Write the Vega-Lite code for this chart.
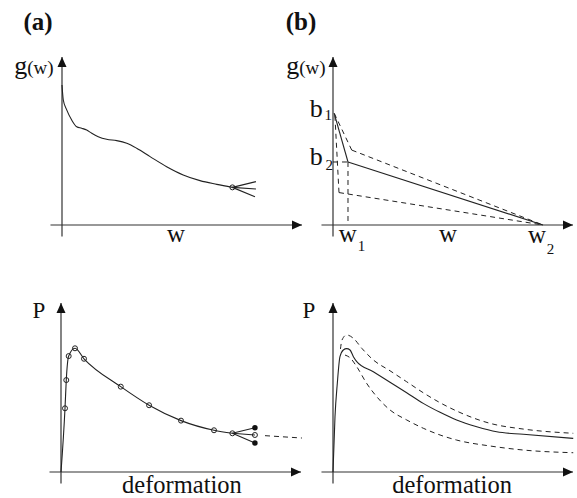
{
  "$schema": "https://vega.github.io/schema/vega-lite/v6.json",
  "padding": 0,
  "spacing": 0,
  "bounds": "flush",
  "columns": 2,
  "background": "white",
  "config": {
    "view": {"stroke": null},
    "concat": {"spacing": 0},
    "text": {"font": "Liberation Serif", "align": "center", "baseline": "alphabetic", "color": "#111"}
  },
  "datasets": {
    "axes": [
      {"x": -0.48, "y": 0, "x2": 10, "y2": 0},
      {"x": 0, "y": -0.68, "x2": 0, "y2": 10}
    ],
    "arrowheads": [
      {"x": 10, "y": 0, "dir": "right"},
      {"x": 0, "y": 10, "dir": "up"}
    ],
    "curveA": [
      {"x": 0, "y": 8.33}, {"x": 0.054, "y": 7.44}, {"x": 0.196, "y": 6.85},
      {"x": 0.404, "y": 6.25}, {"x": 0.6125, "y": 5.85}, {"x": 0.82, "y": 5.76},
      {"x": 1.03, "y": 5.65}, {"x": 1.24, "y": 5.46}, {"x": 1.51, "y": 5.26},
      {"x": 1.86, "y": 5.1}, {"x": 2.28, "y": 5.02}, {"x": 2.7, "y": 4.86},
      {"x": 3.11, "y": 4.57}, {"x": 3.67, "y": 4.07}, {"x": 4.36, "y": 3.47},
      {"x": 5.05, "y": 2.98}, {"x": 5.75, "y": 2.64}, {"x": 6.45, "y": 2.42},
      {"x": 7.1, "y": 2.24}
    ],
    "fanA": [
      {"x": 7.1, "y": 2.24, "x2": 8.08, "y2": 2.58},
      {"x": 7.1, "y": 2.24, "x2": 8.08, "y2": 2.14},
      {"x": 7.1, "y": 2.24, "x2": 8.04, "y2": 1.68}
    ],
    "nodeA": [{"x": 7.1, "y": 2.24}],
    "labelsA": [
      {"role": "panel", "label": "(a)", "x": -1.0, "y": 11.61},
      {"role": "symbol", "label": "g", "x": -1.72, "y": 8.99},
      {"role": "argument", "label": "(w)", "x": -0.9, "y": 8.99},
      {"role": "main", "label": "w", "x": 4.75, "y": -1.01}
    ],
    "solidB": [
      {"x": 0.05, "y": 6.65, "x2": 0.625, "y2": 3.75},
      {"x": 0.625, "y": 3.75, "x2": 8.75, "y2": 0}
    ],
    "dashedB": [
      {"x": 0.05, "y": 6.65, "x2": 0.78, "y2": 4.46},
      {"x": 0.78, "y": 4.46, "x2": 8.75, "y2": 0},
      {"x": 0.08, "y": 6.5, "x2": 0.25, "y2": 1.93},
      {"x": 0.25, "y": 1.93, "x2": 8.75, "y2": 0},
      {"x": 0, "y": 3.75, "x2": 0.625, "y2": 3.75},
      {"x": 0.625, "y": 3.75, "x2": 0.625, "y2": 0}
    ],
    "labelsB": [
      {"role": "panel", "label": "(b)", "x": -1.33, "y": 11.61},
      {"role": "symbol", "label": "g", "x": -1.68, "y": 8.99},
      {"role": "argument", "label": "(w)", "x": -0.86, "y": 8.99},
      {"role": "symbol", "label": "b", "x": -0.7, "y": 6.43},
      {"role": "subscript", "label": "1", "x": -0.2, "y": 6.25},
      {"role": "symbol", "label": "b", "x": -0.7, "y": 3.57},
      {"role": "subscript", "label": "2", "x": -0.16, "y": 3.27},
      {"role": "main", "label": "w", "x": 4.79, "y": -1.01},
      {"role": "main", "label": "w", "x": 0.62, "y": -1.01},
      {"role": "subscript", "label": "1", "x": 1.19, "y": -1.55},
      {"role": "main", "label": "w", "x": 8.5, "y": -1.07},
      {"role": "subscript", "label": "2", "x": 9.06, "y": -1.72}
    ],
    "curveC": [
      {"x": 0, "y": 0}, {"x": 0.167, "y": 3.77}, {"x": 0.22, "y": 5.44},
      {"x": 0.32, "y": 6.86}, {"x": 0.583, "y": 7.32}, {"x": 0.958, "y": 6.7},
      {"x": 2.49, "y": 5.05}, {"x": 3.67, "y": 3.95}, {"x": 5.0, "y": 3.04},
      {"x": 6.375, "y": 2.47}, {"x": 7.14, "y": 2.29}
    ],
    "openC": [
      {"x": 0.167, "y": 3.77}, {"x": 0.22, "y": 5.44}, {"x": 0.32, "y": 6.86},
      {"x": 0.583, "y": 7.32}, {"x": 0.958, "y": 6.7}, {"x": 2.49, "y": 5.05},
      {"x": 3.67, "y": 3.95}, {"x": 5.0, "y": 3.04}, {"x": 6.375, "y": 2.47},
      {"x": 7.14, "y": 2.29}, {"x": 8.08, "y": 2.19}
    ],
    "fanC": [
      {"x": 7.14, "y": 2.29, "x2": 8.08, "y2": 2.62},
      {"x": 7.14, "y": 2.29, "x2": 8.08, "y2": 2.19},
      {"x": 7.14, "y": 2.29, "x2": 8.08, "y2": 1.72}
    ],
    "filledC": [{"x": 8.08, "y": 2.62}, {"x": 8.08, "y": 1.72}],
    "tailC": [{"x": 8.5, "y": 2.15, "x2": 10.04, "y2": 2.01}],
    "labelsC": [
      {"role": "main", "label": "P", "x": -0.92, "y": 9.11},
      {"role": "axis", "label": "deformation", "x": 5.04, "y": -1.26}
    ],
    "curvesD": [
      {"band": "median", "x": 0, "y": 0}, {"band": "median", "x": 0.083, "y": 3.27},
      {"band": "median", "x": 0.18, "y": 5.25}, {"band": "median", "x": 0.29, "y": 6.82},
      {"band": "median", "x": 0.43, "y": 7.22}, {"band": "median", "x": 0.57, "y": 7.3},
      {"band": "median", "x": 0.71, "y": 7.22}, {"band": "median", "x": 0.85, "y": 6.82},
      {"band": "median", "x": 0.99, "y": 6.53}, {"band": "median", "x": 1.68, "y": 5.93},
      {"band": "median", "x": 2.375, "y": 5.31}, {"band": "median", "x": 3.07, "y": 4.69},
      {"band": "median", "x": 3.76, "y": 4.06}, {"band": "median", "x": 4.46, "y": 3.53},
      {"band": "median", "x": 5.15, "y": 3.08}, {"band": "median", "x": 5.99, "y": 2.68},
      {"band": "median", "x": 6.82, "y": 2.38}, {"band": "median", "x": 7.93, "y": 2.23},
      {"band": "median", "x": 10.01, "y": 1.99},
      {"band": "upper", "x": 0.31, "y": 7.28}, {"band": "upper", "x": 0.375, "y": 7.81},
      {"band": "upper", "x": 0.57, "y": 8.11}, {"band": "upper", "x": 0.85, "y": 7.91},
      {"band": "upper", "x": 1.2, "y": 7.32}, {"band": "upper", "x": 1.68, "y": 6.63},
      {"band": "upper", "x": 2.375, "y": 5.99}, {"band": "upper", "x": 3.07, "y": 5.34},
      {"band": "upper", "x": 3.76, "y": 4.69}, {"band": "upper", "x": 4.46, "y": 4.1},
      {"band": "upper", "x": 5.15, "y": 3.61}, {"band": "upper", "x": 6.54, "y": 2.88},
      {"band": "upper", "x": 7.93, "y": 2.54}, {"band": "upper", "x": 10.01, "y": 2.29},
      {"band": "lower", "x": 0.5, "y": 6.92}, {"band": "lower", "x": 0.71, "y": 6.76},
      {"band": "lower", "x": 0.99, "y": 6.23}, {"band": "lower", "x": 1.4, "y": 5.25},
      {"band": "lower", "x": 1.82, "y": 4.46}, {"band": "lower", "x": 2.375, "y": 3.67},
      {"band": "lower", "x": 3.07, "y": 3.08}, {"band": "lower", "x": 3.76, "y": 2.59},
      {"band": "lower", "x": 4.46, "y": 2.19}, {"band": "lower", "x": 5.15, "y": 1.89},
      {"band": "lower", "x": 6.54, "y": 1.54}, {"band": "lower", "x": 7.93, "y": 1.3},
      {"band": "lower", "x": 10.01, "y": 1.14}
    ],
    "labelsD": [
      {"role": "main", "label": "P", "x": -1.0, "y": 9.11},
      {"role": "axis", "label": "deformation", "x": 4.96, "y": -1.26}
    ]
  },
  "concat": [
    {
      "width": 288,
      "height": 249,
      "encoding": {
        "x": {"field": "x", "type": "quantitative", "axis": null, "scale": {"domain": [-2.5833, 9.4167], "nice": false, "zero": false}},
        "y": {"field": "y", "type": "quantitative", "axis": null, "scale": {"domain": [-1.4286, 13.3929], "nice": false, "zero": false}}
      },
      "layer": [
        {"data": {"name": "axes"}, "mark": {"type": "rule", "color": "#333", "strokeWidth": 1.2}, "encoding": {"x2": {"field": "x2"}, "y2": {"field": "y2"}}},
        {"data": {"name": "arrowheads"}, "mark": {"type": "point", "filled": true, "opacity": 1, "size": 25, "color": "#111"},
         "encoding": {"shape": {"field": "dir", "type": "nominal", "legend": null, "scale": {"domain": ["up", "right"], "range": ["M0,0L-1.8,4L1.8,4Z", "M0,0L-4,-1.8L-4,1.8Z"]}}}},
        {"data": {"name": "curveA"}, "mark": {"type": "line", "interpolate": "monotone", "color": "#222", "strokeWidth": 1.1}},
        {"data": {"name": "fanA"}, "mark": {"type": "rule", "color": "#222", "strokeWidth": 1.1}, "encoding": {"x2": {"field": "x2"}, "y2": {"field": "y2"}}},
        {"data": {"name": "nodeA"}, "mark": {"type": "point", "shape": "circle", "filled": false, "opacity": 1, "size": 25, "color": "#222", "strokeWidth": 1}},
        {"data": {"name": "labelsA"}, "transform": [{"filter": "datum.role === 'panel'"}], "mark": {"type": "text", "font": "Liberation Serif", "fontSize": 25, "fontWeight": "bold"}, "encoding": {"text": {"field": "label"}}},
        {"data": {"name": "labelsA"}, "transform": [{"filter": "datum.role === 'symbol'"}], "mark": {"type": "text", "font": "Liberation Serif", "fontSize": 26}, "encoding": {"text": {"field": "label"}}},
        {"data": {"name": "labelsA"}, "transform": [{"filter": "datum.role === 'main'"}], "mark": {"type": "text", "font": "Liberation Serif", "fontSize": 25}, "encoding": {"text": {"field": "label"}}},
        {"data": {"name": "labelsA"}, "transform": [{"filter": "datum.role === 'argument'"}], "mark": {"type": "text", "font": "Liberation Serif", "fontSize": 19}, "encoding": {"text": {"field": "label"}}}
      ]
    },
    {
      "width": 289,
      "height": 249,
      "encoding": {
        "x": {"field": "x", "type": "quantitative", "axis": null, "scale": {"domain": [-1.875, 10.1667], "nice": false, "zero": false}},
        "y": {"field": "y", "type": "quantitative", "axis": null, "scale": {"domain": [-1.4286, 13.3929], "nice": false, "zero": false}}
      },
      "layer": [
        {"data": {"name": "axes"}, "mark": {"type": "rule", "color": "#333", "strokeWidth": 1.2}, "encoding": {"x2": {"field": "x2"}, "y2": {"field": "y2"}}},
        {"data": {"name": "arrowheads"}, "mark": {"type": "point", "filled": true, "opacity": 1, "size": 25, "color": "#111"},
         "encoding": {"shape": {"field": "dir", "type": "nominal", "legend": null, "scale": {"domain": ["up", "right"], "range": ["M0,0L-1.8,4L1.8,4Z", "M0,0L-4,-1.8L-4,1.8Z"]}}}},
        {"data": {"name": "dashedB"}, "mark": {"type": "rule", "color": "#222", "strokeWidth": 1, "strokeDash": [5, 4]}, "encoding": {"x2": {"field": "x2"}, "y2": {"field": "y2"}}},
        {"data": {"name": "solidB"}, "mark": {"type": "rule", "color": "#222", "strokeWidth": 1.1}, "encoding": {"x2": {"field": "x2"}, "y2": {"field": "y2"}}},
        {"data": {"name": "labelsB"}, "transform": [{"filter": "datum.role === 'panel'"}], "mark": {"type": "text", "font": "Liberation Serif", "fontSize": 25, "fontWeight": "bold"}, "encoding": {"text": {"field": "label"}}},
        {"data": {"name": "labelsB"}, "transform": [{"filter": "datum.role === 'symbol'"}], "mark": {"type": "text", "font": "Liberation Serif", "fontSize": 26}, "encoding": {"text": {"field": "label"}}},
        {"data": {"name": "labelsB"}, "transform": [{"filter": "datum.role === 'main'"}], "mark": {"type": "text", "font": "Liberation Serif", "fontSize": 25}, "encoding": {"text": {"field": "label"}}},
        {"data": {"name": "labelsB"}, "transform": [{"filter": "datum.role === 'argument'"}], "mark": {"type": "text", "font": "Liberation Serif", "fontSize": 19}, "encoding": {"text": {"field": "label"}}},
        {"data": {"name": "labelsB"}, "transform": [{"filter": "datum.role === 'subscript'"}], "mark": {"type": "text", "font": "Liberation Serif", "fontSize": 15}, "encoding": {"text": {"field": "label"}}}
      ]
    },
    {
      "width": 288,
      "height": 249,
      "encoding": {
        "x": {"field": "x", "type": "quantitative", "axis": null, "scale": {"domain": [-2.5417, 9.4583], "nice": false, "zero": false}},
        "y": {"field": "y", "type": "quantitative", "axis": null, "scale": {"domain": [-1.5385, 13.1953], "nice": false, "zero": false}}
      },
      "layer": [
        {"data": {"name": "axes"}, "mark": {"type": "rule", "color": "#333", "strokeWidth": 1.2}, "encoding": {"x2": {"field": "x2"}, "y2": {"field": "y2"}}},
        {"data": {"name": "arrowheads"}, "mark": {"type": "point", "filled": true, "opacity": 1, "size": 25, "color": "#111"},
         "encoding": {"shape": {"field": "dir", "type": "nominal", "legend": null, "scale": {"domain": ["up", "right"], "range": ["M0,0L-1.8,4L1.8,4Z", "M0,0L-4,-1.8L-4,1.8Z"]}}}},
        {"data": {"name": "curveC"}, "mark": {"type": "line", "interpolate": "monotone", "color": "#222", "strokeWidth": 1.1}},
        {"data": {"name": "fanC"}, "mark": {"type": "rule", "color": "#222", "strokeWidth": 1.1}, "encoding": {"x2": {"field": "x2"}, "y2": {"field": "y2"}}},
        {"data": {"name": "tailC"}, "mark": {"type": "rule", "color": "#222", "strokeWidth": 1, "strokeDash": [5, 4]}, "encoding": {"x2": {"field": "x2"}, "y2": {"field": "y2"}}},
        {"data": {"name": "openC"}, "mark": {"type": "point", "shape": "circle", "filled": false, "opacity": 1, "size": 25, "color": "#222", "strokeWidth": 1}},
        {"data": {"name": "filledC"}, "mark": {"type": "point", "shape": "circle", "filled": true, "opacity": 1, "size": 30, "color": "#111"}},
        {"data": {"name": "labelsC"}, "transform": [{"filter": "datum.role === 'main'"}], "mark": {"type": "text", "font": "Liberation Serif", "fontSize": 23}, "encoding": {"text": {"field": "label"}}},
        {"data": {"name": "labelsC"}, "transform": [{"filter": "datum.role === 'axis'"}], "mark": {"type": "text", "font": "Liberation Serif", "fontSize": 24.5}, "encoding": {"text": {"field": "label"}}}
      ]
    },
    {
      "width": 289,
      "height": 249,
      "encoding": {
        "x": {"field": "x", "type": "quantitative", "axis": null, "scale": {"domain": [-1.875, 10.1667], "nice": false, "zero": false}},
        "y": {"field": "y", "type": "quantitative", "axis": null, "scale": {"domain": [-1.5385, 13.1953], "nice": false, "zero": false}}
      },
      "layer": [
        {"data": {"name": "axes"}, "mark": {"type": "rule", "color": "#333", "strokeWidth": 1.2}, "encoding": {"x2": {"field": "x2"}, "y2": {"field": "y2"}}},
        {"data": {"name": "arrowheads"}, "mark": {"type": "point", "filled": true, "opacity": 1, "size": 25, "color": "#111"},
         "encoding": {"shape": {"field": "dir", "type": "nominal", "legend": null, "scale": {"domain": ["up", "right"], "range": ["M0,0L-1.8,4L1.8,4Z", "M0,0L-4,-1.8L-4,1.8Z"]}}}},
        {"data": {"name": "curvesD"}, "transform": [{"filter": "datum.band !== 'median'"}], "mark": {"type": "line", "interpolate": "monotone", "color": "#222", "strokeWidth": 1, "strokeDash": [5, 4]}, "encoding": {"detail": {"field": "band"}}},
        {"data": {"name": "curvesD"}, "transform": [{"filter": "datum.band === 'median'"}], "mark": {"type": "line", "interpolate": "monotone", "color": "#222", "strokeWidth": 1.1}},
        {"data": {"name": "labelsD"}, "transform": [{"filter": "datum.role === 'main'"}], "mark": {"type": "text", "font": "Liberation Serif", "fontSize": 23}, "encoding": {"text": {"field": "label"}}},
        {"data": {"name": "labelsD"}, "transform": [{"filter": "datum.role === 'axis'"}], "mark": {"type": "text", "font": "Liberation Serif", "fontSize": 24.5}, "encoding": {"text": {"field": "label"}}}
      ]
    }
  ]
}
